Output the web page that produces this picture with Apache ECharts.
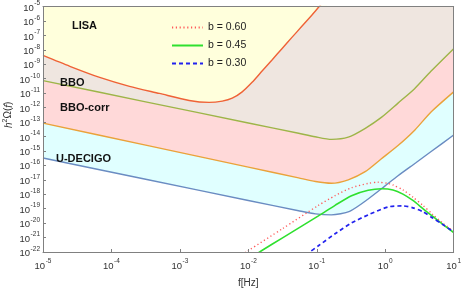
<!DOCTYPE html>
<html><head><meta charset="utf-8">
<script src="https://cdn.jsdelivr.net/npm/echarts@6/dist/echarts.min.js"></script>
<style>html,body{margin:0;padding:0;background:#fff}#c{width:464px;height:293px}#err{position:absolute;left:0;top:200px;font:9px monospace;color:red}</style>
</head><body><div id="c"></div><div id="err"></div>
<script>
// ---- data (log10 of f[Hz], log10 of h^2 Omega) ----
const lisaLogF = [-5, -4.608, -4.172, -3.736, -3.300, -2.864, -2.574, -2.380, -2.235, -2.090, -1.945, -1.799, -1.654, -1.509, -1.363, -1.218, -1.073, -0.951, -0.85];
const lisaLogO = [-8.39, -9.14, -9.91, -10.53, -11.02, -11.51, -11.64, -11.55, -11.35, -10.91, -10.25, -9.47, -8.70, -7.92, -7.14, -6.37, -5.60, -4.93, -4.4];

const bboLogF = [-5, -3.5, -2, -1.266, -1.024, -0.782, -0.540, -0.297, -0.056, 0.187, 0.429, 0.671, 1.0];
const bboLogO = [-10.13, -11.60, -13.07, -13.78, -14.02, -14.20, -14.05, -13.45, -12.68, -11.69, -10.69, -9.47, -7.92];

const corrLogF = [-5, -3.5, -2, -1.266, -1.019, -0.787, -0.540, -0.293, -0.060, 0.187, 0.434, 0.666, 1.0];
const corrLogO = [-13.08, -14.60, -16.12, -16.87, -17.12, -17.24, -17.00, -16.44, -15.56, -14.63, -13.55, -12.32, -10.91];

const udecLogF = [-5, -3.5, -2, -1.266, -1.019, -0.787, -0.52, -0.249, -0.006, 0.187, 0.448, 0.666, 1.0];
const udecLogO = [-15.49, -16.96, -18.43, -19.14, -19.36, -19.43, -19.18, -18.33, -17.44, -16.72, -15.82, -15.06, -13.90];

const b060LogF = [-2.1, -2.003, -1.5, -0.976, -0.733, -0.492, -0.249, -0.104, 0.041, 0.114, 0.259, 0.404, 0.550, 0.695, 0.840, 1.0];
const b060LogO = [-22.2, -21.91, -20.38, -18.77, -18.10, -17.55, -17.25, -17.17, -17.25, -17.36, -17.70, -18.20, -18.77, -19.40, -20.00, -20.57];

const b045LogF = [-1.9, -1.808, -1.5, -0.976, -0.733, -0.492, -0.249, -0.056, 0.114, 0.259, 0.404, 0.550, 0.695, 0.840, 1.0];
const b045LogO = [-22.2, -21.91, -21.02, -19.50, -18.77, -18.10, -17.73, -17.62, -17.70, -17.99, -18.43, -18.99, -19.54, -20.09, -20.65];

const b030LogF = [-1.15, -1.096, -0.976, -0.733, -0.492, -0.249, 0.041, 0.259, 0.404, 0.550, 0.695, 0.840, 1.0];
const b030LogO = [-22.25, -21.98, -21.57, -20.74, -19.99, -19.43, -18.88, -18.81, -18.94, -19.21, -19.65, -20.09, -20.62];

// axis ranges (decades) and labels
const xRangeExp = [-5, 1];
const yRangeExp = [-22, -5];
const regionLabels = ['LISA', 'BBO', 'BBO-corr', 'U-DECIGO'];
const legendNames = ['b = 0.60', 'b = 0.45', 'b = 0.30'];

function pts(lf, lo) { return lf.map((f, i) => [f, lo[i]]); }

const FONT = '"Liberation Sans", Arial, Helvetica, sans-serif';
function supFmt(v) {
  const e = Math.round(v);
  return '{b|10}{s|' + (e < 0 ? '-' : '') + Math.abs(e) + '}';
}
const labelRich = {
  b: { fontSize: 9.5, fontFamily: FONT, color: '#333', lineHeight: 13, verticalAlign: 'bottom' },
  s: { fontSize: 6.5, fontFamily: FONT, color: '#333', lineHeight: 13, verticalAlign: 'top', padding: [0, 0, 0, 0.5] }
};

try {
const chart = echarts.init(document.getElementById('c'), null, { renderer: 'canvas' });

function regionSeries(name, data, lineColor, fillColor) {
  return {
    name: name, type: 'line', data: data, symbol: 'none', smooth: 0.25, clip: true,
    lineStyle: { color: lineColor, width: 1.4 },
    areaStyle: { color: fillColor, opacity: 1, origin: 'end' },
    silent: true
  };
}
function sigSeries(name, data, color, type, width) {
  return {
    name: name, type: 'line', data: data, symbol: 'none', smooth: 0.25, clip: true,
    lineStyle: { color: color, width: width, type: type },
    itemStyle: { color: color },
    z: 5, silent: true
  };
}

const axisLineStyle = { color: '#808080', width: 1 };
const regionFont = 'bold 11px ' + FONT;

chart.setOption({
  animation: false,
  backgroundColor: '#fff',
  grid: { left: 43, right: 8, top: 6, bottom: 31 },
  xAxis: [{
    type: 'value', min: xRangeExp[0], max: xRangeExp[1], interval: 1,
    z: 10,
    axisLine: { show: true, onZero: false, lineStyle: axisLineStyle },
    axisTick: { show: true, inside: true, length: 3, lineStyle: axisLineStyle },
    splitLine: { show: false },
    axisLabel: { formatter: supFmt, rich: labelRich, margin: 6 },
    name: 'f[Hz]', nameLocation: 'middle', nameGap: 26,
    nameTextStyle: { fontFamily: FONT, fontSize: 10, color: '#333' }
  }, {
    type: 'value', position: 'top', min: xRangeExp[0], max: xRangeExp[1],
    z: 10, axisLine: { show: true, onZero: false, lineStyle: axisLineStyle }, axisTick: { show: false }, axisLabel: { show: false }, splitLine: { show: false }
  }],
  yAxis: [{
    type: 'value', min: yRangeExp[0], max: yRangeExp[1], interval: 1,
    z: 10,
    axisLine: { show: true, onZero: false, lineStyle: axisLineStyle },
    axisTick: { show: true, inside: true, length: 3, lineStyle: axisLineStyle },
    splitLine: { show: false },
    axisLabel: { formatter: supFmt, rich: labelRich, margin: 3 }
  }, {
    type: 'value', position: 'right', min: yRangeExp[0], max: yRangeExp[1],
    z: 10, axisLine: { show: true, onZero: false, lineStyle: axisLineStyle }, axisTick: { show: false }, axisLabel: { show: false }, splitLine: { show: false }
  }],
  legend: {
    data: legendNames, orient: 'vertical', left: 166, top: 17, padding: 5, itemWidth: 31, itemHeight: 10, itemGap: 7,
    itemStyle: { opacity: 0 },
    textStyle: { fontFamily: FONT, fontSize: 10.5, color: '#222' }, selectedMode: false
  },
  graphic: [
    { type: 'text', z: 100, left: 72, top: 20, style: { text: regionLabels[0], font: regionFont, fill: '#111' } },
    { type: 'text', z: 100, left: 60, top: 77, style: { text: regionLabels[1], font: regionFont, fill: '#111' } },
    { type: 'text', z: 100, left: 60, top: 102, style: { text: regionLabels[2], font: regionFont, fill: '#111' } },
    { type: 'text', z: 100, left: 56, top: 153, style: { text: regionLabels[3], font: regionFont, fill: '#111' } },
    { type: 'text', z: 100, x: 2, y: 128, rotation: Math.PI / 2,
      style: { text: '{i|h}{s|2}Ω({i|f})', rich: {
        i: { fontStyle: 'italic', fontSize: 10, fontFamily: FONT, fill: '#333', lineHeight: 12, verticalAlign: 'bottom' },
        s: { fontSize: 7, fontFamily: FONT, fill: '#333', lineHeight: 12, verticalAlign: 'top' }
      }, font: '10px ' + FONT, fill: '#333' } }
  ],
  series: [
    regionSeries('U-DECIGO', pts(udecLogF, udecLogO), '#6a8cc2', '#e0ffff'),
    regionSeries('BBO-corr', pts(corrLogF, corrLogO), '#eaa23a', '#ffd9d9'),
    regionSeries('BBO', pts(bboLogF, bboLogO), '#9db548', '#efe6e0'),
    regionSeries('LISA', pts(lisaLogF, lisaLogO), '#ef6236', '#ffffdc'),
    sigSeries(legendNames[0], pts(b060LogF, b060LogO), '#ff5a5a', [1.2, 2.6], 1.4),
    sigSeries(legendNames[1], pts(b045LogF, b045LogO), '#2fe02f', 'solid', 1.6),
    sigSeries(legendNames[2], pts(b030LogF, b030LogO), '#2222ee', [4, 3], 1.7)
  ]
});
} catch (e) { document.getElementById('err').textContent = String(e && e.stack || e); }
</script></body></html>
